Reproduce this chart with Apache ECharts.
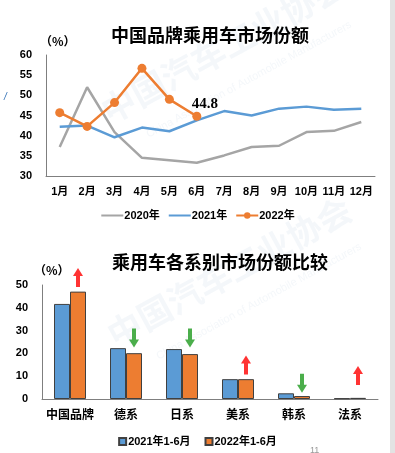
<!DOCTYPE html>
<html>
<head>
<meta charset="utf-8">
<script src="https://cdn.jsdelivr.net/npm/echarts@6/dist/echarts.min.js"></script>
<style>
html,body{margin:0;padding:0;background:#fff;}
#c{width:395px;height:453px;}
</style>
</head>
<body>
<div id="c"></div>
<script>
// ---- Top chart data ----
var months = ['1月','2月','3月','4月','5月','6月','7月','8月','9月','10月','11月','12月'];
var share2020 = [37.2, 52.0, 40.9, 34.5, 33.9, 33.3, 35.1, 37.2, 37.5, 40.9, 41.2, 43.4];
var share2021 = [42.2, 42.5, 39.6, 42.0, 41.1, 43.8, 46.1, 45.0, 46.7, 47.2, 46.4, 46.7];
var share2022 = [45.7, 42.3, 48.2, 56.7, 49.0, 44.8];
var topYTicks = [30, 35, 40, 45, 50, 55, 60];

// ---- Bottom chart data ----
var groups = ['中国品牌','德系','日系','美系','韩系','法系'];
var h1_2021 = [41.7, 22.3, 21.9, 8.7, 2.5, 0.3];
var h1_2022 = [47.1, 20.1, 19.7, 8.7, 1.3, 0.5];
var arrowUp = [true, false, false, true, false, true];
var arrowMid = [53.3, 26.8, 26.8, 14.9, 6.9, 10.3];
var bottomYTicks = [0, 10, 20, 30, 40, 50];

var FONT = '"Liberation Sans", "Noto Sans CJK SC", sans-serif';
var CJK = '"Noto Sans CJK SC", sans-serif';
var GRAY = '#A5A5A5', BLUE = '#5B9BD5', ORANGE = '#ED7D31';
var ARROW = 'path://M5,0 L10,8 L7,8 L7,19 L3,19 L3,8 L0,8 Z';
var WM = 'rgba(195,208,228,0.18)';

var chart = echarts.init(document.getElementById('c'), null, {renderer: 'canvas'});

var arrowData = groups.map(function (g, i) {
  return {
    value: [g, arrowMid[i]],
    symbolRotate: arrowUp[i] ? 0 : 180,
    itemStyle: {color: arrowUp[i] ? '#FF0000' : '#1E9A1E'}
  };
});

var axisLabelBase = {color: '#000', fontWeight: 'bold', fontFamily: FONT, fontSize: 11};

chart.setOption({
  animation: false,
  backgroundColor: '#fff',
  title: [
    {text: '中国品牌乘用车市场份额', left: 205, top: 21, textAlign: 'center',
      textStyle: {fontSize: 18, fontWeight: 'bold', fontFamily: CJK, color: '#000'}},
    {text: '乘用车各系别市场份额比较', left: 215, top: 248, textAlign: 'center',
      textStyle: {fontSize: 18, fontWeight: 'bold', fontFamily: CJK, color: '#000'}}
  ],
  graphic: [
    {type: 'rect', shape: {x: 390, y: 0, width: 5, height: 453}, style: {fill: '#E3E3E3'}, silent: true},
    {type: 'text', x: 112, y: 128, rotation: 0.5, z: -1, silent: true,
      style: {text: '中国汽车工业协会', fontSize: 34, fontWeight: 'bold', fontFamily: CJK, fill: WM, textVerticalAlign: 'bottom'}},
    {type: 'text', x: 150, y: 140, rotation: 0.5, z: -1, silent: true,
      style: {text: 'China Association of Automobile Manufacturers', fontSize: 11, fontFamily: FONT, fill: WM, textVerticalAlign: 'bottom'}},
    {type: 'text', x: 118, y: 352, rotation: 0.5, z: -1, silent: true,
      style: {text: '中国汽车工业协会', fontSize: 34, fontWeight: 'bold', fontFamily: CJK, fill: WM, textVerticalAlign: 'bottom'}},
    {type: 'text', x: 160, y: 362, rotation: 0.5, z: -1, silent: true,
      style: {text: 'China Association of Automobile Manufacturers', fontSize: 11, fontFamily: FONT, fill: WM, textVerticalAlign: 'bottom'}},
    {type: 'text', x: 4, y: 92, style: {text: '/', fontSize: 10, fill: '#2F6FB5', fontStyle: 'italic'}},
    {type: 'text', x: 310, y: 446, style: {text: '11', fontSize: 9, fill: '#999'}}
  ],
  legend: [
    {data: [
        {name: '2020年', itemStyle: {opacity: 0}},
        {name: '2021年', itemStyle: {opacity: 0}},
        {name: '2022年'}
      ], left: 'center', top: 205, itemWidth: 22, itemHeight: 8, itemGap: 8,
      textStyle: {fontSize: 11, fontWeight: 'bold', fontFamily: FONT, color: '#000', padding: [0, 0, 0, -4]}},
    {data: ['2021年1-6月','2022年1-6月'], left: 'center', top: 431, itemWidth: 7, itemHeight: 7, itemGap: 14,
      icon: 'rect',
      textStyle: {fontSize: 11, fontWeight: 'bold', fontFamily: FONT, color: '#000', padding: [0, 0, 0, -3]}}
  ],
  grid: [
    {left: 46, right: 20, top: 55, height: 121},
    {left: 42, right: 17, top: 285, height: 114}
  ],
  xAxis: [
    {type: 'category', gridIndex: 0, data: months, boundaryGap: true,
      axisLine: {lineStyle: {color: '#7F7F7F', width: 1}}, axisTick: {show: false},
      axisLabel: Object.assign({}, axisLabelBase, {margin: 10, interval: 0, fontSize: 11})},
    {type: 'category', gridIndex: 1, data: groups, boundaryGap: true,
      axisLine: {lineStyle: {color: '#7F7F7F', width: 1}}, axisTick: {show: false},
      axisLabel: Object.assign({}, axisLabelBase, {margin: 9, interval: 0, fontSize: 12, fontFamily: CJK})}
  ],
  yAxis: [
    {type: 'value', gridIndex: 0, min: topYTicks[0], max: topYTicks[topYTicks.length - 1], interval: 5,
      name: '（%）', nameLocation: 'end', nameGap: 8,
      nameTextStyle: {fontSize: 12, fontWeight: 'bold', fontFamily: CJK, color: '#000', align: 'left', padding: [0, 0, 0, -6]},
      axisLine: {show: true, lineStyle: {color: '#7F7F7F', width: 1}}, axisTick: {show: false}, splitLine: {show: false},
      axisLabel: Object.assign({}, axisLabelBase, {margin: 14})},
    {type: 'value', gridIndex: 1, min: bottomYTicks[0], max: bottomYTicks[bottomYTicks.length - 1], interval: 10,
      name: '（%）', nameLocation: 'end', nameGap: 9,
      nameTextStyle: {fontSize: 12, fontWeight: 'bold', fontFamily: CJK, color: '#000', align: 'left', padding: [0, 0, 0, -8]},
      axisLine: {show: true, lineStyle: {color: '#7F7F7F', width: 1}}, axisTick: {show: false}, splitLine: {show: false},
      axisLabel: Object.assign({}, axisLabelBase, {margin: 14})}
  ],
  series: [
    {name: '2020年', type: 'line', xAxisIndex: 0, yAxisIndex: 0, data: share2020, symbol: 'none',
      lineStyle: {color: GRAY, width: 2.5}, itemStyle: {color: GRAY}},
    {name: '2021年', type: 'line', xAxisIndex: 0, yAxisIndex: 0, data: share2021, symbol: 'none',
      lineStyle: {color: BLUE, width: 2.5}, itemStyle: {color: BLUE}},
    {name: '2022年', type: 'line', xAxisIndex: 0, yAxisIndex: 0, data: share2022, symbol: 'circle', symbolSize: 9,
      lineStyle: {color: ORANGE, width: 2.5}, itemStyle: {color: ORANGE},
      label: {show: true, position: 'top', offset: [8, 5], fontSize: 15, fontWeight: 'bold', fontFamily: '"Liberation Serif", serif', color: '#000',
        formatter: function (p) { return p.dataIndex === share2022.length - 1 ? p.value.toFixed(1) : ''; }}},
    {name: '2021年1-6月', type: 'bar', xAxisIndex: 1, yAxisIndex: 1, data: h1_2021, barWidth: 16, barGap: '0%',
      itemStyle: {color: BLUE, borderColor: '#404040', borderWidth: 1}},
    {name: '2022年1-6月', type: 'bar', xAxisIndex: 1, yAxisIndex: 1, data: h1_2022, barWidth: 16, barGap: '0%',
      itemStyle: {color: ORANGE, borderColor: '#404040', borderWidth: 1}},
    {name: 'arrows', type: 'scatter', xAxisIndex: 1, yAxisIndex: 1, data: arrowData, symbol: ARROW, clip: false,
      symbolSize: [10, 19], symbolOffset: [8, 0], z: 5}
  ]
});
</script>
</body>
</html>
